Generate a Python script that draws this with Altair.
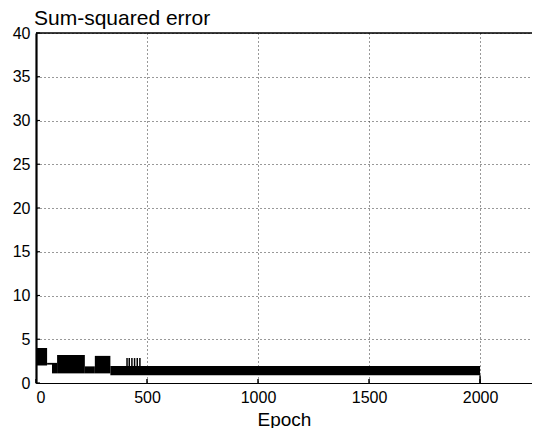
import altair as alt
import pandas as pd

# Error band segments (epoch ranges and min/max of the oscillating error)
seg_start = [0, 50, 72, 95, 220, 265, 335]
seg_end = [50, 72, 95, 220, 265, 335, 2000]
seg_lo = [2.0, 2.1, 1.1, 1.1, 1.1, 1.1, 0.9]
seg_hi = [4.0, 2.3, 2.3, 3.2, 1.9, 3.1, 1.95]

# isolated spikes
spike_epoch = [410, 420, 432, 444, 456, 468, 2000]
spike_lo = [1.9, 1.9, 1.9, 1.9, 1.9, 1.9, 0.0]
spike_hi = [2.85, 2.85, 2.85, 2.85, 2.85, 2.85, 0.9]

x_ticks = [0, 500, 1000, 1500, 2000]
y_ticks = [0, 5, 10, 15, 20, 25, 30, 35, 40]

W, H = 496, 350
FONT = "Liberation Sans"

segs = pd.DataFrame({"s": seg_start, "e": seg_end, "lo": seg_lo, "hi": seg_hi})
spikes = pd.DataFrame({"t": spike_epoch, "lo": spike_lo, "hi": spike_hi})
xt = pd.DataFrame({"t": x_ticks})
yt = pd.DataFrame({"v": y_ticks})

xscale = alt.Scale(domain=[0, 2234], nice=False)
yscale = alt.Scale(domain=[0, 40], nice=False)

xaxis = alt.Axis(values=x_ticks, format="d", title="Epoch", grid=True, gridColor="#333", gridDash=[1, 3],
                 gridWidth=1, ticks=False, labelPadding=6, labelFontSize=16, labelFont=FONT,
                 labelColor="black", titleFont=FONT, titleFontSize=19, titleFontWeight="normal",
                 titleColor="black", titlePadding=5, domainColor="black", domainWidth=1.2)
yaxis = alt.Axis(values=y_ticks, format="d", title=None, grid=True, gridColor="#333", gridDash=[1, 3],
                 gridWidth=1, ticks=False, labelPadding=6, labelFontSize=16, labelFont=FONT,
                 labelColor="black", domainColor="black", domainWidth=2.2)

band = alt.Chart(segs).mark_rect(color="black").encode(
    x=alt.X("s:Q", scale=xscale, axis=xaxis),
    x2="e:Q",
    y=alt.Y("lo:Q", scale=yscale, axis=yaxis),
    y2="hi:Q",
)

spk = alt.Chart(spikes).mark_rule(color="black", strokeWidth=1.5).encode(
    x=alt.X("t:Q", scale=xscale),
    y=alt.Y("lo:Q", scale=yscale),
    y2="hi:Q",
)

top = alt.Chart(yt).transform_filter("datum.v == 40").mark_rule(color="black", strokeWidth=1.5).encode(
    y=alt.Y("v:Q", scale=yscale),
)

xtick_marks = alt.Chart(xt).mark_rule(color="black", strokeWidth=1.5).encode(
    x=alt.X("t:Q", scale=xscale),
    y=alt.value(H - 4),
    y2=alt.value(H),
)

ytick_marks = alt.Chart(yt).mark_rule(color="black", strokeWidth=1.2).encode(
    y=alt.Y("v:Q", scale=yscale),
    x=alt.value(0),
    x2=alt.value(4),
)

chart = alt.layer(band, spk, top, xtick_marks, ytick_marks).properties(
    width=W,
    height=H,
    title=alt.TitleParams("Sum-squared error", anchor="start", frame="group", offset=2,
                          dx=-2, dy=6, font=FONT, fontSize=21,
                          fontWeight="normal", color="black"),
    autosize=alt.AutoSizeParams(type="none"),
    padding={"left": 28, "top": 25, "right": 0, "bottom": 45},
).configure_view(stroke=None).configure(background="white")

chart.save("out.html", embed_options={"renderer": "svg", "actions": False})
